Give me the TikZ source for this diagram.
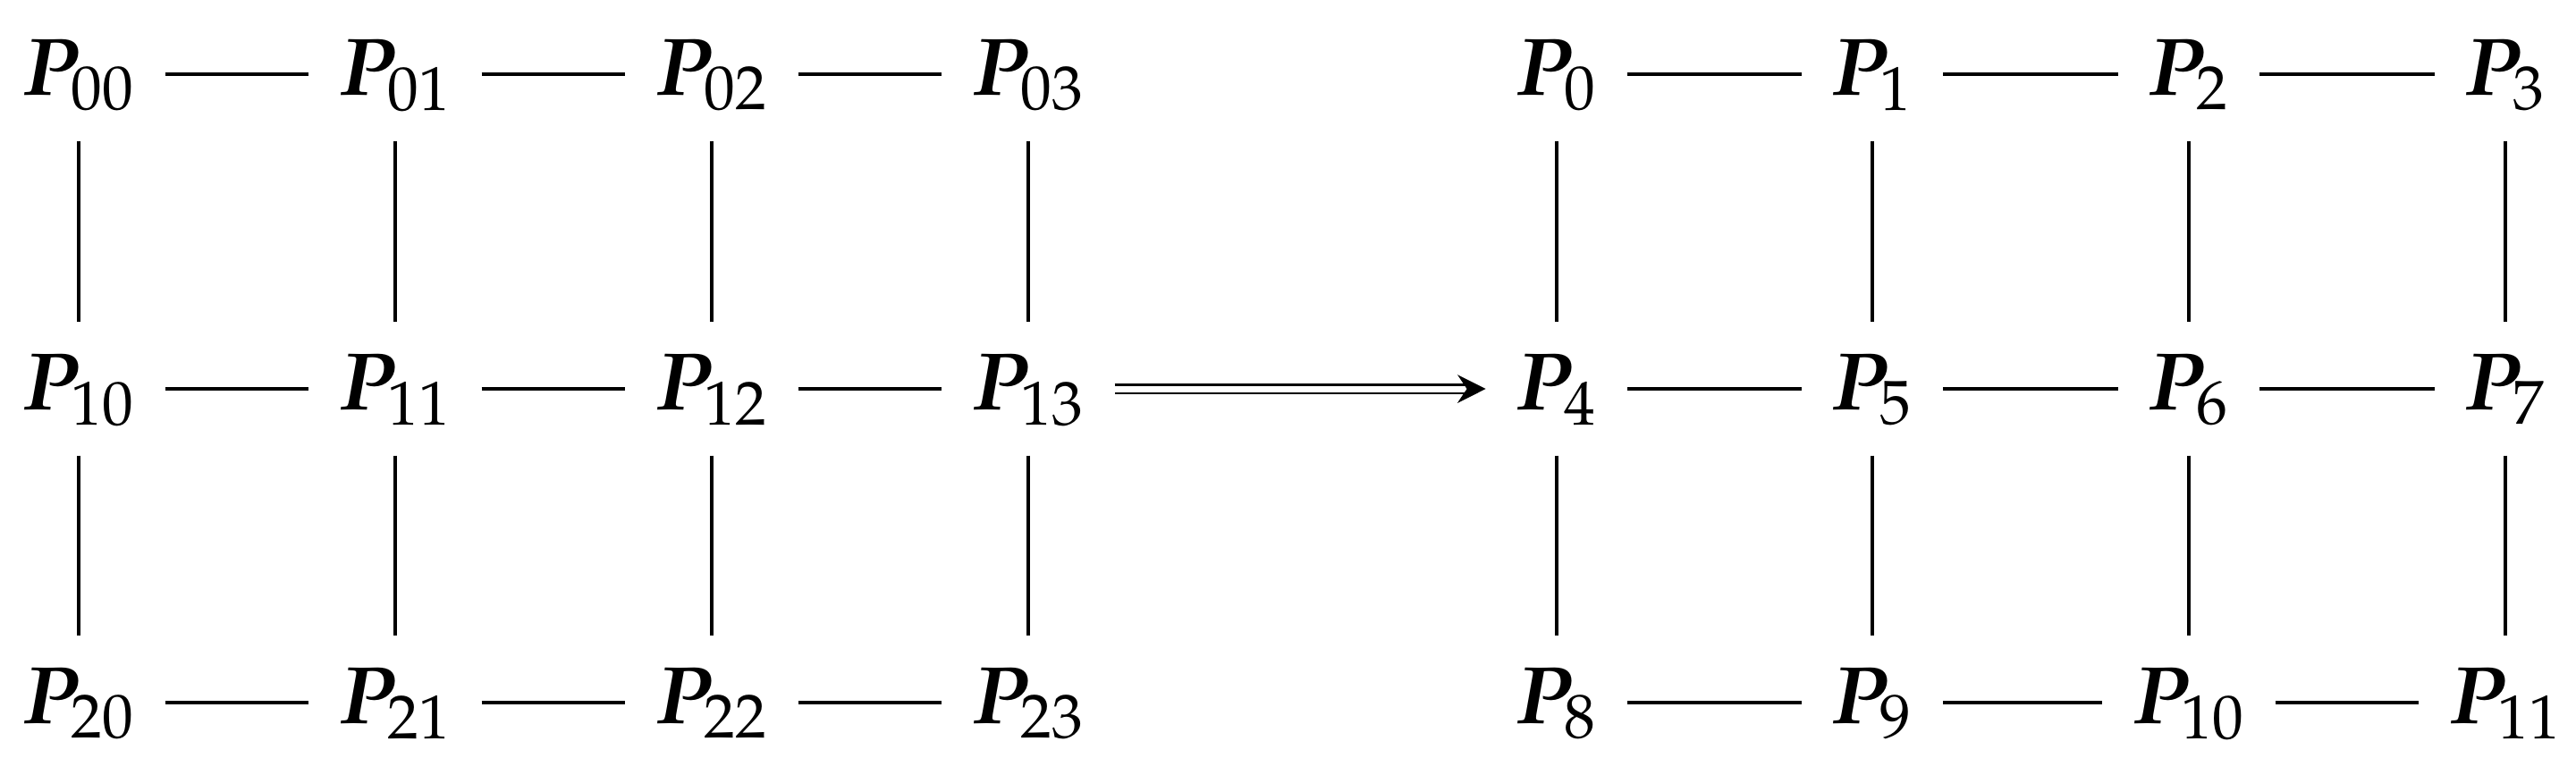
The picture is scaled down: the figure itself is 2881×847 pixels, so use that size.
\documentclass[tikz,border=0pt]{standalone}
\usepackage{mathpazo}
\usepackage{bm}
\usetikzlibrary{arrows.meta}
\begin{document}
\begin{tikzpicture}[x=0.01cm,y=-0.01cm,
  pt/.style={inner sep=0pt,outer sep=0.34cm,text height=0.64cm,text depth=0.17cm,font=\fontsize{26}{30}\selectfont},
  ln/.style={line width=1pt}]
\useasboundingbox (0,0) rectangle (2881,847);
\foreach \r/\y in {0/83,1/435,2/786}{
  \foreach \c/\x in {0/88,1/442,2/796,3/1150}{
    \node[pt] (L\r\c) at (\x,\y) {$\bm{P}_{\r\c}$};
  }
}
\foreach \r/\y in {0/83,1/435,2/786}{
  \foreach \c/\x in {0/1741,1/2094,2/2448,3/2802}{
    \pgfmathtruncatemacro{\k}{4*\r+\c}
    \node[pt] (R\r\c) at (\x,\y) {$\bm{P}_{\k}$};
  }
}
\foreach \r in {0,1,2}{
  \draw[ln] (L\r0) -- (L\r1); \draw[ln] (L\r1) -- (L\r2); \draw[ln] (L\r2) -- (L\r3);
  \draw[ln] (R\r0) -- (R\r1); \draw[ln] (R\r1) -- (R\r2); \draw[ln] (R\r2) -- (R\r3);
}
\foreach \c in {0,1,2,3}{
  \draw[ln] (L0\c) -- (L1\c); \draw[ln] (L1\c) -- (L2\c);
  \draw[ln] (R0\c) -- (R1\c); \draw[ln] (R1\c) -- (R2\c);
}
\draw[line width=0.7pt,double distance=2pt,-{Stealth[length=9pt,width=9pt,inset=3pt]}] (L13) -- (R10);
\end{tikzpicture}
\end{document}
